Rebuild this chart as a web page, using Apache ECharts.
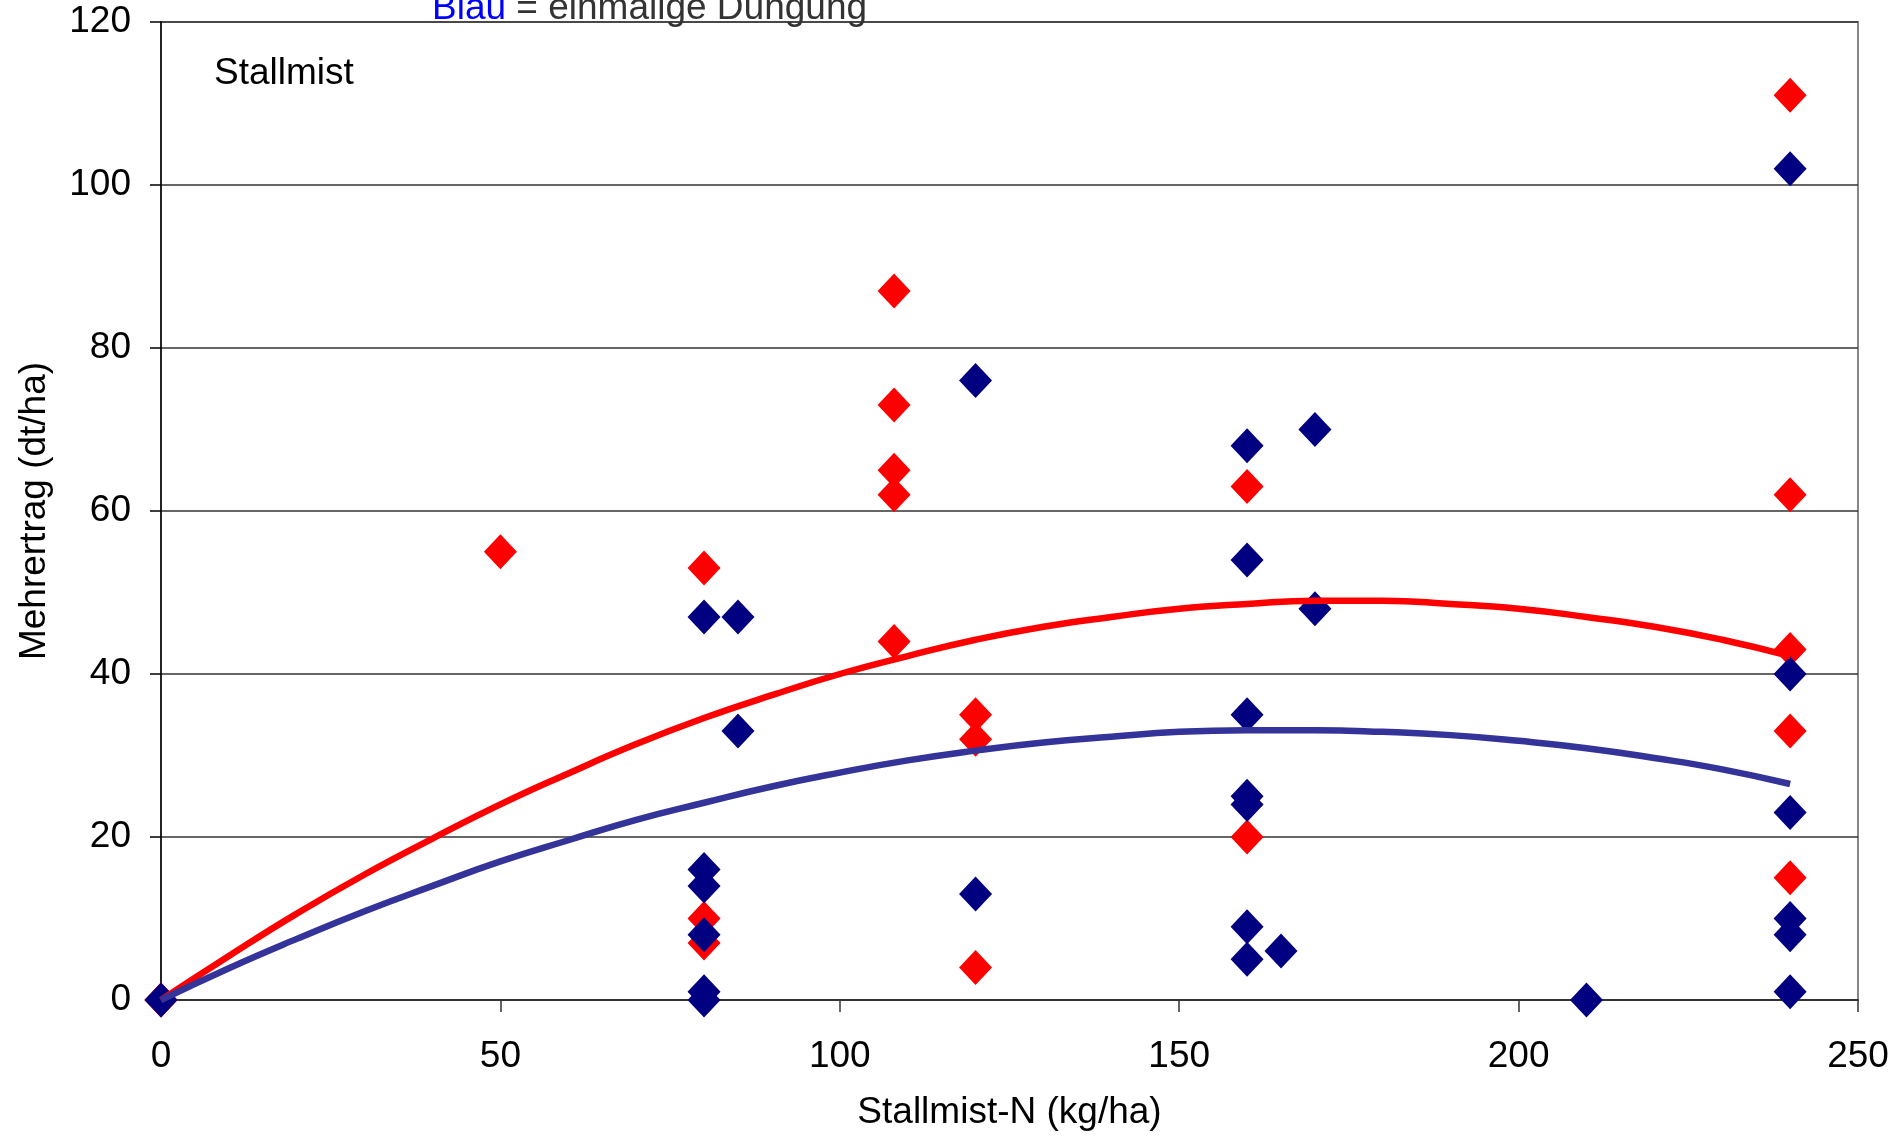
<!DOCTYPE html>
<html>
<head>
<meta charset="utf-8">
<script src="https://cdn.jsdelivr.net/npm/echarts@6/dist/echarts.min.js"></script>
<style>
html,body{margin:0;padding:0;background:#fff;}
#chart{width:1897px;height:1137px;}
</style>
</head>
<body>
<div id="chart"></div>
<script>
// Red = repeated manure application, Blue = single application
const redX = [0, 0, 50, 80, 80, 80, 108, 108, 108, 108, 108, 120, 120, 120, 160, 160, 240, 240, 240, 240, 240];
const redY = [0, 0, 55, 53, 10, 7, 87, 73, 65, 62, 44, 35, 32, 4, 63, 20, 111, 62, 43, 33, 15];

const blueX = [0, 80, 85, 85, 80, 80, 80, 80, 80, 120, 120, 160, 160, 160, 160, 160, 160, 160, 165, 170, 170, 210, 240, 240, 240, 240, 240, 240];
const blueY = [0, 47, 47, 33, 16, 14, 8, 1, 0, 76, 13, 68, 54, 35, 25, 24, 9, 5, 6, 70, 48, 0, 102, 40, 23, 10, 8, 1];

// trend curves
const trendX = [0, 10, 20, 30, 40, 50, 60, 70, 80, 90, 100, 110, 120, 130, 140, 150, 160, 170, 180, 190, 200, 210, 220, 230, 240];
const redTrend = [0, 5.4, 10.6, 15.4, 19.8, 24.0, 27.8, 31.4, 34.6, 37.4, 40.0, 42.2, 44.2, 45.8, 47.0, 48.0, 48.6, 49.0, 49.0, 48.6, 48.0, 47.0, 45.8, 44.2, 42.2];
const blueTrend = [0, 3.9, 7.5, 10.9, 14.0, 17.0, 19.6, 22.1, 24.2, 26.2, 27.9, 29.4, 30.6, 31.6, 32.3, 32.9, 33.1, 33.1, 32.9, 32.5, 31.8, 30.9, 29.7, 28.3, 26.5];

const xTicks = [0, 50, 100, 150, 200, 250];
const yTicks = [0, 20, 40, 60, 80, 100, 120];

const FONT = '"Liberation Sans", Arial, sans-serif';
const FS = 37;
const pairs = (xs, ys) => xs.map((x, i) => [x, ys[i]]);

const chart = echarts.init(document.getElementById('chart'), null, {renderer: 'canvas'});
chart.setOption({
  animation: false,
  backgroundColor: '#ffffff',
  textStyle: {fontFamily: FONT},
  grid: {left: 161, right: 39, top: 22, bottom: 137, show: true, borderColor: '#888888', borderWidth: 2, backgroundColor: 'transparent'},
  xAxis: {
    type: 'value', min: xTicks[0], max: xTicks[xTicks.length - 1], interval: 50,
    name: 'Stallmist-N (kg/ha)', nameLocation: 'middle', nameGap: 94,
    nameTextStyle: {fontSize: FS, color: '#000', fontFamily: FONT},
    axisLine: {show: true, onZero: false, lineStyle: {color: '#333', width: 2}},
    axisTick: {show: true, length: 12, lineStyle: {color: '#333', width: 1.5}},
    axisLabel: {fontSize: FS, color: '#000', margin: 38, fontFamily: FONT},
    splitLine: {show: false}
  },
  yAxis: {
    type: 'value', min: yTicks[0], max: yTicks[yTicks.length - 1], interval: 20,
    name: 'Mehrertrag (dt/ha)', nameLocation: 'middle', nameGap: 108, nameRotate: 90,
    nameTextStyle: {fontSize: FS, color: '#000', fontFamily: FONT},
    axisLine: {show: true, onZero: false, lineStyle: {color: '#000', width: 1.5}},
    axisTick: {show: true, length: 11, lineStyle: {color: '#000', width: 1.5}},
    axisLabel: {fontSize: FS, color: '#000', margin: 30, fontFamily: FONT},
    splitLine: {show: true, lineStyle: {color: '#333', width: 1.5}}
  },
  graphic: [
    {type: 'text', left: 214, top: 55, style: {text: 'Stallmist', fontSize: FS, fill: '#000', font: FS + 'px ' + FONT}},
    {type: 'text', x: 432, y: 9, style: {
      text: '{b|Blau} = einmalige Düngung', fontSize: FS, fontFamily: FONT, fill: '#333333', verticalAlign: 'middle',
      rich: {b: {fill: '#0000FF', fontSize: FS, fontFamily: FONT}}
    }}
  ],
  series: [
    {type: 'scatter', name: 'rot', data: pairs(redX, redY), symbol: 'diamond', symbolSize: [33, 35],
     itemStyle: {color: '#FF0000', opacity: 1}, z: 3},
    {type: 'scatter', name: 'blau', data: pairs(blueX, blueY), symbol: 'diamond', symbolSize: [33, 35],
     itemStyle: {color: '#000080', opacity: 1}, z: 4},
    {type: 'line', name: 'Trend rot', data: pairs(trendX, redTrend), smooth: true, showSymbol: false, symbol: 'none',
     lineStyle: {color: '#FF0000', width: 6.5}, z: 5},
    {type: 'line', name: 'Trend blau', data: pairs(trendX, blueTrend), smooth: true, showSymbol: false, symbol: 'none',
     lineStyle: {color: '#333399', width: 6.5}, z: 5}
  ]
});
</script>
</body>
</html>
